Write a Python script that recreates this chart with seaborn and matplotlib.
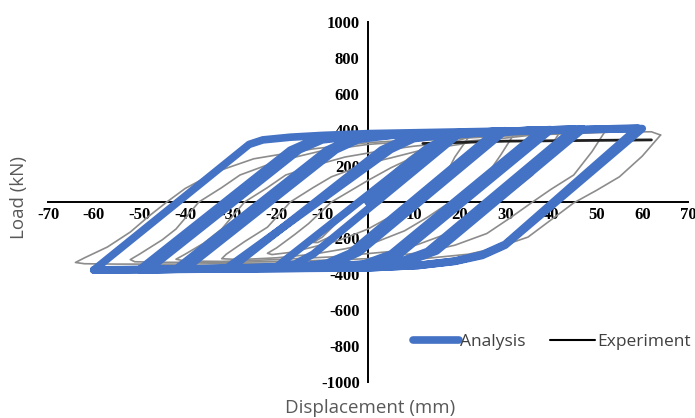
import matplotlib
matplotlib.use("Agg")
import matplotlib.pyplot as plt
import seaborn as sns
import pandas as pd
from matplotlib.lines import Line2D

# ---------------- data ----------------
# Analysis: one continuous hysteresis path (displacement mm, load kN)
analysis_disp = [0, 17, 20,
                 -12, -16, -20,
                 13, 17, 20, 28,
                 -4, -9, -15, -30,
                 3, 8, 15, 30,
                 -2, -7, -14, -31,
                 5, 10, 17, 38,
                 5, -1, -10, -40,
                 -7, -2, 5, 40,
                 7, 1, -8, -42,
                 -9, -4, 3, 45,
                 13, 6, -5, -48,
                 -15, -10, -2, 47,
                 15, 8, -3, -50,
                 -17, -12, -4, 59,
                 30, 25, 19, 11, 0, -60,
                 -26, -23, -17, -10, 0, 60,
                 30, 25, 19, 11, 0, -60]
analysis_load = [0, 360, 380,
                 -290, -345, -360,
                 300, 355, 375, 392,
                 -285, -340, -358, -368,
                 290, 350, 372, 396,
                 -280, -338, -357, -369,
                 292, 352, 374, 400,
                 -290, -345, -362, -372,
                 290, 348, 370, 402,
                 -288, -343, -361, -373,
                 288, 347, 369, 405,
                 -275, -340, -362, -375,
                 290, 345, 368, 406,
                 -272, -338, -361, -376,
                 288, 344, 367, 411,
                 -235, -292, -328, -352, -366, -378,
                 320, 345, 360, 370, 380, 408,
                 -240, -297, -330, -353, -365, -377]

# Experiment loops (one list per cycle amplitude)
exp_x_64 = [64, 60, 55, 50, 45, 40, 35, 28, 22, 12, 0, -20, -40, -55, -62, -64, -62, -57, -52, -48, -44, -40, -33, -25, -12, 0, 15, 30, 45, 55, 62, 64]
exp_y_64 = [372, 255, 140, 65, -5, -100, -195, -255, -290, -315, -330, -340, -345, -345, -343, -336, -310, -250, -167, -80, 0, 75, 170, 240, 295, 330, 352, 368, 380, 390, 390, 372]
exp_x_52 = [52, 49, 45, 40, 36, 31, 26, 19, 12, 0, -15, -30, -45, -51, -52, -50, -45, -42, -37, -32, -28, -20, -10, 0, 12, 25, 38, 48, 52]
exp_y_52 = [398, 280, 150, 70, 0, -90, -175, -240, -280, -315, -328, -335, -335, -332, -320, -290, -210, -150, 0, 80, 150, 225, 285, 320, 342, 360, 378, 392, 398]
exp_x_42 = [42, 39, 36, 32, 28, 23, 18, 11, 5, -8, -20, -32, -40, -42, -40, -36, -32, -27, -22, -18, -10, -5, 3, 10, 20, 30, 38, 42]
exp_y_42 = [390, 270, 150, 70, 0, -90, -170, -235, -275, -305, -320, -330, -328, -318, -290, -230, -150, 0, 80, 150, 215, 250, 285, 310, 335, 355, 378, 390]
exp_x_32 = [32, 29, 26, 22, 18, 13, 8, 2, -5, -12, -20, -28, -32, -31, -27, -22, -17, -12, -8, 0, 5, 12, 20, 27, 32]
exp_y_32 = [380, 260, 150, 70, 0, -85, -160, -220, -260, -290, -310, -320, -315, -290, -220, -140, 0, 80, 140, 215, 245, 290, 320, 355, 380]
exp_x_22 = [22, 19, 17, 13, 10, 5, 0, -6, -12, -17, -21, -22, -20, -16, -13, -8, -4, 0, 5, 10, 16, 22]
exp_y_22 = [360, 250, 150, 70, 0, -80, -150, -210, -250, -280, -292, -285, -255, -180, -120, 0, 60, 120, 190, 250, 310, 360]
exp_x_12 = [12, 10, 8, 5, 3, -1, -4, -8, -11, -12, -10, -7, -4, 0, 3, 6, 9, 12]
exp_y_12 = [300, 220, 140, 60, 0, -70, -130, -190, -225, -225, -195, -120, -60, 30, 110, 180, 245, 300]
exp_env_x = [12, 30, 62]
exp_env_y = [325, 338, 345]

x_ticks = [-70, -60, -50, -40, -30, -20, -10, 10, 20, 30, 40, 50, 60, 70]
y_ticks = [-1000, -800, -600, -400, -200, 200, 400, 600, 800, 1000]

# ---------------- plot ----------------
sns.set_style("white")
fig = plt.figure(figsize=(6.95, 4.18), dpi=100)
ax = fig.add_axes([48 / 695, 1 - 382 / 418, 640 / 695, 360 / 418])

exp_frames = []
for i, (xs, ys) in enumerate([(exp_x_64, exp_y_64), (exp_x_52, exp_y_52), (exp_x_42, exp_y_42),
                              (exp_x_32, exp_y_32), (exp_x_22, exp_y_22), (exp_x_12, exp_y_12)]):
    exp_frames.append(pd.DataFrame({"d": xs, "F": ys, "loop": i}))
exp_df = pd.concat(exp_frames, ignore_index=True)
sns.lineplot(data=exp_df, x="d", y="F", units="loop", estimator=None, sort=False,
             color="#8c8c8c", lw=1.2, ax=ax, zorder=3, legend=False)
sns.lineplot(x=exp_env_x, y=exp_env_y, sort=False, estimator=None, color="#202020",
             lw=2.0, ax=ax, zorder=3, legend=False)

ana_df = pd.DataFrame({"d": analysis_disp, "F": analysis_load})
sns.lineplot(data=ana_df, x="d", y="F", sort=False, estimator=None, color="#4472C4",
             lw=5.5, ax=ax, zorder=4, legend=False)
for ln in ax.lines[-1:]:
    ln.set_solid_joinstyle("round")
    ln.set_solid_capstyle("round")

ax.set_xlim(-70, 70)
ax.set_ylim(-1000, 1000)
ax.spines["left"].set_position(("data", 0))
ax.spines["bottom"].set_position(("data", 0))
ax.spines["top"].set_visible(False)
ax.spines["right"].set_visible(False)
for s in ("left", "bottom"):
    ax.spines[s].set_color("black")
    ax.spines[s].set_linewidth(1.4)
ax.set_xticks(x_ticks)
ax.set_yticks(y_ticks)
tick_font = dict(family="Liberation Serif", weight="bold", size=12)
ax.set_xticklabels([str(t) for t in x_ticks], fontdict=tick_font)
ax.set_yticklabels([str(t) for t in y_ticks], fontdict=tick_font)
ax.tick_params(axis="x", direction="inout", length=5, width=1, pad=1, colors="black")
ax.tick_params(axis="y", direction="out", length=4, width=1, pad=2, colors="black")
ax.set_xlabel("")
ax.set_ylabel("")
ax.grid(False)

fig.text(370 / 695, 1 - 408 / 418, "Displacement (mm)", ha="center", va="center",
         family="Open Sans", size=13.5, color="#595959")
fig.text(19 / 695, 1 - 198 / 418, "Load (kN)", ha="center", va="center", rotation=90,
         family="Open Sans", size=13.5, color="#595959")

handles = [Line2D([], [], color="#4472C4", lw=5.5, solid_capstyle="round"),
           Line2D([], [], color="black", lw=1.5)]
leg = ax.legend(handles, ["Analysis", "Experiment"], ncol=2, frameon=False,
                loc="center", bbox_to_anchor=(552 / 695, 1 - 342 / 418),
                bbox_transform=fig.transFigure, handlelength=2.6, handletextpad=0.1,
                columnspacing=1.4, prop=dict(family="Open Sans", size=12.5))
for t in leg.get_texts():
    t.set_color("#404040")

fig.savefig("out.png", dpi=100, facecolor="white")
